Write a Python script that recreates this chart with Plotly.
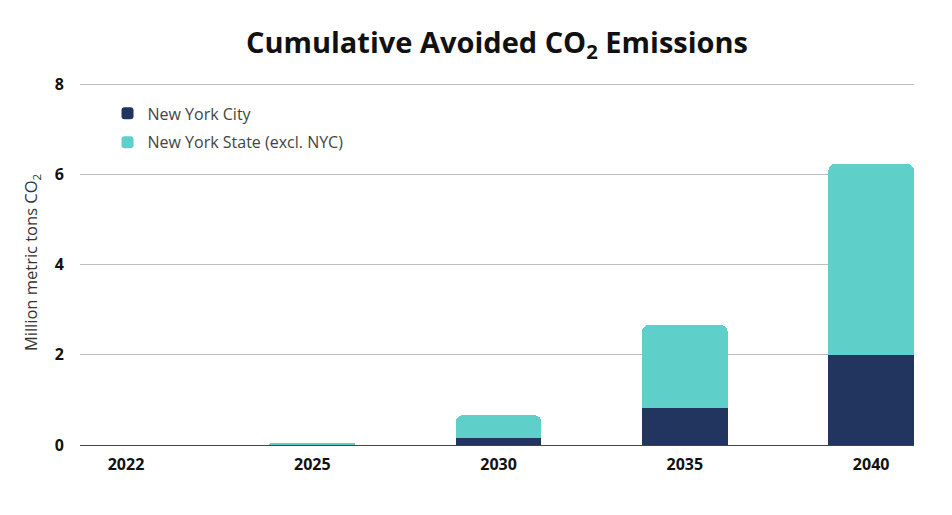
import plotly.graph_objects as go

years = ["2022", "2025", "2030", "2035", "2040"]
nyc = [0.0, 0.0, 0.16, 0.82, 2.0]
nys_excl_nyc = [0.0, 0.03, 0.50, 1.84, 4.23]
y_ticks = [0, 2, 4, 6, 8]

NAVY = "#22355e"
TEAL = "#5fcfca"

fig = go.Figure()
fig.add_trace(go.Bar(x=years, y=nyc, name="New York City", marker_color=NAVY,
                     marker_line_width=0, width=0.46, legendgroup="a"))
fig.add_trace(go.Bar(x=years, y=nys_excl_nyc, name="New York State (excl. NYC)",
                     marker_color=TEAL, marker_line_width=0, width=0.46,
                     legendgroup="b"))

fig.update_layout(
    width=944, height=507,
    barmode="stack",
    barcornerradius=7,
    paper_bgcolor="white", plot_bgcolor="white",
    margin=dict(l=72, r=38, t=72, b=70),
    font=dict(family="Open Sans", color="#222"),
    title=dict(text="<b>Cumulative Avoided CO<sub>2</sub> Emissions</b>",
               x=0.518, xref="container", xanchor="center",
               y=0.931, yref="container", yanchor="middle",
               font=dict(family="Open Sans", size=29, color="#111", weight=800)),
    legend=dict(x=0.033, y=0.955, xanchor="left", yanchor="top",
                traceorder="grouped", bgcolor="rgba(0,0,0,0)",
                font=dict(size=16, color="#444"),
                tracegroupgap=5),
    showlegend=True,
)
fig.update_xaxes(type="category", range=[-0.247, 4.23], showgrid=False,
                 showline=False, ticks="outside", ticklen=5, tickcolor="white",
                 tickfont=dict(size=16, color="#111", weight="bold"),
                 fixedrange=True)
fig.update_yaxes(range=[0, 8.09], tickvals=y_ticks, showgrid=True,
                 gridcolor="#bdbdbd", gridwidth=1,
                 zeroline=True, zerolinecolor="#444", zerolinewidth=1.4,
                 ticks="outside", ticklen=12, tickcolor="white",
                 tickfont=dict(size=16, color="#111", weight="bold"),
                 title=dict(text="Million metric tons CO<sub>2</sub>",
                            font=dict(size=16.5, color="#333"), standoff=12),
                 fixedrange=True)

fig.write_html("out.html")
